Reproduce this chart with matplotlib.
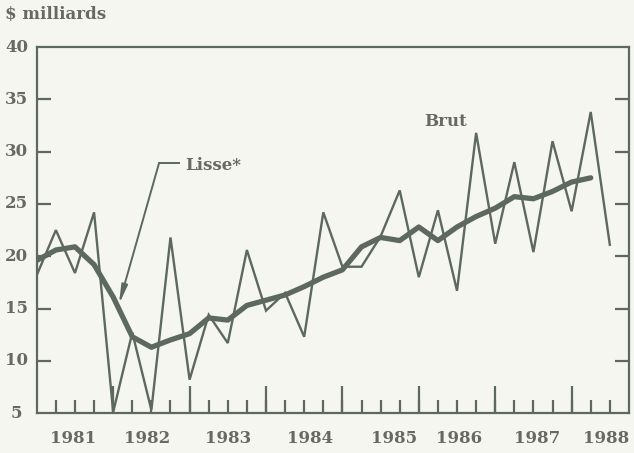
import matplotlib
matplotlib.use("Agg")
import matplotlib.pyplot as plt
import matplotlib.transforms as mtransforms

# quarterly values, 1981 Q1 .. 1988 Q3 ($ milliards)
brut = [18.2, 22.5, 18.4, 24.2, 5.1, 12.7, 5.3, 21.8, 8.2, 14.4,
        11.7, 20.6, 14.8, 16.5, 12.3, 24.2, 19.0, 19.0, 21.9, 26.3,
        18.0, 24.4, 16.7, 31.8, 21.2, 29.0, 20.4, 31.0, 24.3, 33.8, 21.1]
lisse = [19.6, 20.6, 20.9, 19.2, 16.1, 12.3, 11.3, 12.0, 12.6, 14.1,
         13.9, 15.3, 15.8, 16.3, 17.1, 18.0, 18.7, 20.9, 21.8, 21.5,
         22.8, 21.5, 22.8, 23.8, 24.6, 25.7, 25.5, 26.2, 27.1, 27.5]
years = ['1981', '1982', '1983', '1984', '1985', '1986', '1987', '1988']
year_pos = [1.9, 5.8, 10.0, 14.3, 18.7, 22.1, 26.2, 29.8]
yticks = [5, 10, 15, 20, 25, 30, 35, 40]

bg = '#f6f6f1'
ink = '#5c695c'
txt = '#676a62'
font = 'DejaVu Serif'
fs = 12

fig = plt.figure(figsize=(6.34, 4.53), dpi=100, facecolor=bg)
ax = fig.add_axes([0.058, 0.088, 0.934, 0.808], facecolor=bg)

ax.plot(range(len(brut)), brut, color=ink, lw=1.7, solid_joinstyle='miter')
ax.plot(range(len(lisse)), lisse, color=ink, lw=3.8, solid_joinstyle='round',
        solid_capstyle='round')

ax.set_xlim(0, 31)
ax.set_ylim(5, 40)

for s in ax.spines.values():
    s.set_color(ink)
    s.set_linewidth(1.6)

# y ticks (inside, both sides), labels drawn as text
ax.set_yticks(yticks[1:-1])
ax.tick_params(axis='y', direction='in', length=10, width=1.6, color=ink,
               left=True, right=True, labelleft=False)
trans = mtransforms.blended_transform_factory(fig.transFigure, ax.transData)
for v in yticks:
    ax.text(0.026, v, str(v), transform=trans, ha='center', va='center',
            fontsize=fs, family=font, weight='bold', color=txt)

# quarter ticks on the bottom, taller at year boundaries
ax.set_xticks([])
ax.set_xticks([k for k in range(1, 31)], minor=True)
ax.tick_params(axis='x', which='minor', direction='in', length=9.5,
               width=1.6, color=ink, labelbottom=False)
for k in range(4, 31, 4):
    ax.plot([k, k], [5, 7.6], color=ink, lw=1.6, solid_capstyle='butt')
for p, lab in zip(year_pos, years):
    ax.text(p, 2.6, lab, ha='center', va='center', fontsize=fs,
            family=font, weight='bold', color=txt, clip_on=False)

fig.text(0.008, 0.967, '$ milliards', ha='left', va='center', fontsize=fs,
         family=font, weight='bold', color=txt)

# annotations
ax.text(21.4, 32.9, 'Brut', ha='center', va='center', fontsize=fs,
        family=font, weight='bold', color=txt)
ax.text(7.75, 28.7, 'Lisse*', ha='left', va='center', fontsize=fs,
        family=font, weight='bold', color=txt)
ax.plot([7.45, 6.4], [28.9, 28.9], color=ink, lw=1.4)
ax.annotate('', xy=(4.3, 15.4), xytext=(6.4, 28.9),
            arrowprops=dict(arrowstyle='-|>,head_length=1.1,head_width=0.18',
                            color=ink, lw=1.4, shrinkA=0, shrinkB=0))

fig.savefig('out.png', dpi=100, facecolor=bg)
